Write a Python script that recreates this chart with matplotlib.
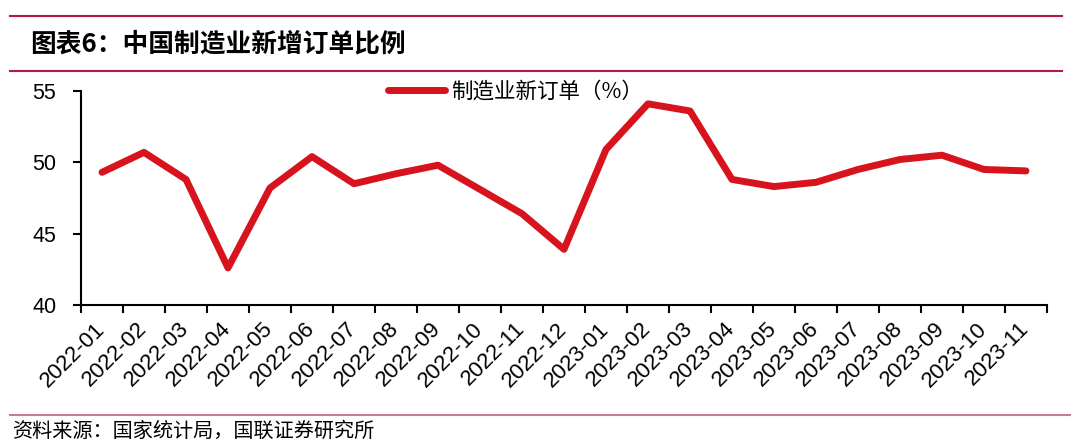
import matplotlib
matplotlib.use("Agg")
import matplotlib.pyplot as plt
from matplotlib.lines import Line2D

months = ['2022-01', '2022-02', '2022-03', '2022-04', '2022-05', '2022-06',
          '2022-07', '2022-08', '2022-09', '2022-10', '2022-11', '2022-12',
          '2023-01', '2023-02', '2023-03', '2023-04', '2023-05', '2023-06',
          '2023-07', '2023-08', '2023-09', '2023-10', '2023-11']
new_orders = [49.3, 50.7, 48.8, 42.6, 48.2, 50.4, 48.5, 49.2, 49.8, 48.1, 46.4, 43.9,
              50.9, 54.1, 53.6, 48.8, 48.3, 48.6, 49.5, 50.2, 50.5, 49.5, 49.4]
yticks = [40, 45, 50, 55]

plt.rcParams['font.family'] = ['Liberation Sans', 'Noto Sans CJK SC', 'DejaVu Sans']
cjk = ['Noto Sans CJK SC', 'DejaVu Sans']

fig = plt.figure(figsize=(10.8, 4.48), dpi=100)
ax = fig.add_axes([81/1080, 1-305/448, (1047-81)/1080, (305-91)/448])

x = range(len(months))
ax.plot(x, new_orders, color='#D7141E', lw=5, solid_capstyle='round', solid_joinstyle='round',
        label='制造业新订单（%）')

ax.set_xlim(-0.5, len(months) - 0.5)
ax.set_ylim(40, 55)
ax.set_yticks(yticks)
# ticks between categories, labels centred on categories
ax.set_xticks([i - 0.5 for i in range(len(months) + 1)])
ax.set_xticklabels([])
ax.set_xticks(list(x), minor=True)
ax.set_xticklabels(months, minor=True, rotation=45, ha='right', va='center',
                   rotation_mode='anchor', fontsize=16)
ax.tick_params(axis='x', which='minor', length=0, pad=15)
ax.tick_params(axis='x', which='major', length=5.5, width=1.5, direction='out')
ax.tick_params(axis='y', length=5.8, width=1.5, direction='out', labelsize=15.5, pad=12)
for s in ['top', 'right']:
    ax.spines[s].set_visible(False)
for s in ['left', 'bottom']:
    ax.spines[s].set_linewidth(1.5)

h, l = ax.get_legend_handles_labels()
fig.legend(h, l, loc='center left', bbox_to_anchor=(388/1080, 1-92/448), frameon=False,
           prop={'family': cjk, 'size': 15.5}, handlelength=2.65, handletextpad=0.3,
           borderpad=0, borderaxespad=0)

# header / footer decorations
red = '#B8173F'
fig.add_artist(Line2D([10/1080, 1062/1080], [1-16/448, 1-16/448], color=red, lw=1.5))
fig.add_artist(Line2D([10/1080, 1062/1080], [1-71/448, 1-71/448], color=red, lw=1.5))
fig.add_artist(Line2D([10/1080, 1070/1080], [1-415/448, 1-415/448], color='#C9789A', lw=1.5))
fig.text(30/1080, 1-44/448, '图表6：中国制造业新增订单比例', family=cjk, fontsize=18.5,
         fontweight='bold', style='italic', va='center')
fig.text(12/1080, 1-431/448, '资料来源：国家统计局，国联证券研究所', family=cjk, fontsize=14.5,
         va='center')

fig.savefig('out.png', dpi=100)
